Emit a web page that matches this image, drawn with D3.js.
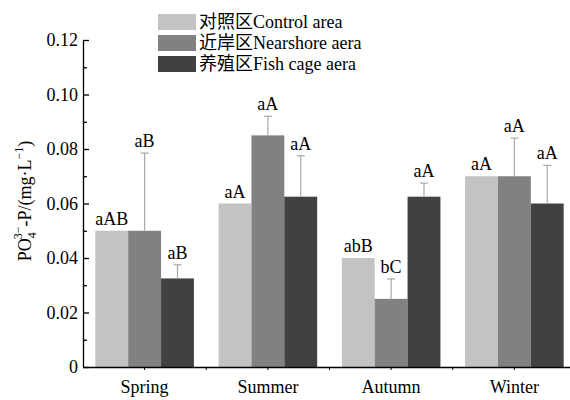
<!DOCTYPE html>
<html>
<head>
<meta charset="utf-8">
<script src="https://cdn.jsdelivr.net/npm/d3@7"></script>
<style>
  html, body { margin: 0; padding: 0; background: #fff; }
  svg { display: block; }
</style>
</head>
<body>
<svg id="chart" width="570" height="400"></svg>
<script>
// Seasons and sampling areas
const seasons = ["Spring", "Summer", "Autumn", "Winter"];
const areas = ["对照区Control area", "近岸区Nearshore aera", "养殖区Fish cage aera"];
const areaColors = ["#c3c3c3", "#818181", "#414141"];

// Phosphate concentration (mg/L), one row per season, one column per area
const means = [
  [0.050, 0.050, 0.0325],
  [0.060, 0.085, 0.0625],
  [0.040, 0.025, 0.0625],
  [0.070, 0.070, 0.060]
];
// Upper error (standard deviation)
const errors = [
  [0, 0.0285, 0.005],
  [0, 0.007, 0.015],
  [0, 0.0073, 0.005],
  [0, 0.014, 0.014]
];
// Significance letters
const letters = [
  ["aAB", "aB", "aB"],
  ["aA", "aA", "aA"],
  ["abB", "bC", "aA"],
  ["aA", "aA", "aA"]
];
const yTicks = [0, 0.02, 0.04, 0.06, 0.08, 0.10, 0.12];

const FONT = '"Liberation Serif", "Noto Sans CJK SC", serif';
const svg = d3.select("#chart");
const plotLeft = 83, plotRight = 576, plotTop = 40, plotBottom = 367;

const x = d3.scaleBand().domain(seasons).range([plotLeft, plotRight])
  .paddingInner(0.2).paddingOuter(0.1);
const xi = d3.scaleBand().domain(d3.range(areas.length)).range([0, x.bandwidth()]);
const y = d3.scaleLinear().domain([0, 0.12]).range([plotBottom, plotTop]);

// Bars
const groups = svg.append("g").selectAll("g").data(seasons).join("g")
  .attr("transform", d => `translate(${x(d)},0)`);

const cells = groups.selectAll("g").data((s, si) => means[si].map((v, ai) => ({
  v, e: errors[si][ai], lab: letters[si][ai], ai
}))).join("g");

cells.append("rect")
  .attr("x", d => xi(d.ai))
  .attr("width", xi.bandwidth())
  .attr("y", d => y(d.v))
  .attr("height", d => y(0) - y(d.v))
  .attr("fill", d => areaColors[d.ai]);

// Error bars (upper only)
const eb = cells.filter(d => d.e > 0);
eb.append("line")
  .attr("x1", d => xi(d.ai) + xi.bandwidth() / 2)
  .attr("x2", d => xi(d.ai) + xi.bandwidth() / 2)
  .attr("y1", d => y(d.v))
  .attr("y2", d => y(d.v + d.e))
  .attr("stroke", "#a8a8a8").attr("stroke-width", 1.2);
eb.append("line")
  .attr("x1", d => xi(d.ai) + xi.bandwidth() / 2 - 4)
  .attr("x2", d => xi(d.ai) + xi.bandwidth() / 2 + 4)
  .attr("y1", d => y(d.v + d.e))
  .attr("y2", d => y(d.v + d.e))
  .attr("stroke", "#a8a8a8").attr("stroke-width", 1.2);

// Letters above bars
cells.append("text")
  .attr("x", d => xi(d.ai) + xi.bandwidth() / 2)
  .attr("y", d => y(d.v + d.e) - 6)
  .attr("text-anchor", "middle")
  .attr("font-size", 18)
  .text(d => d.lab);

// Y axis
const yAxis = d3.axisRight(y).tickValues(d3.range(0, 0.1201, 0.01))
  .tickSize(4).tickFormat("");
const yg = svg.append("g").attr("transform", `translate(${plotLeft},0)`).call(yAxis);
yg.selectAll(".tick line").attr("x2", (d) => (Math.round(d * 100) % 2 === 0 ? 6 : 4));
yg.select(".domain").attr("d", `M0.5,${plotTop}V${plotBottom}`);
yg.selectAll("path, line").attr("stroke", "#000").attr("stroke-width", 1.3);

svg.append("g").selectAll("text").data(yTicks).join("text")
  .attr("x", plotLeft - 5)
  .attr("y", d => y(d) + 6)
  .attr("text-anchor", "end")
  .attr("font-size", 18)
  .text(d => d === 0 ? "0" : d3.format(".2f")(d));

// X axis
const xg = svg.append("g").attr("transform", `translate(0,${plotBottom})`);
xg.append("line").attr("x1", plotLeft).attr("x2", 570).attr("y1", 0.5).attr("y2", 0.5)
  .attr("stroke", "#000").attr("stroke-width", 1.3);
const tickXs = seasons.map(s => x(s) + x.bandwidth() / 2)
  .concat(seasons.slice(0, -1).map(s => x(s) + x.step() - (x.step() - x.bandwidth()) / 2));
xg.selectAll("line.t").data(tickXs).join("line").attr("class", "t")
  .attr("x1", d => d).attr("x2", d => d).attr("y1", 0).attr("y2", 3)
  .attr("stroke", "#000").attr("stroke-width", 1);
xg.selectAll("text").data(seasons).join("text")
  .attr("x", d => x(d) + x.bandwidth() / 2)
  .attr("y", 26)
  .attr("text-anchor", "middle")
  .attr("font-size", 18)
  .text(d => d);

// Y axis title
const yt = svg.append("text")
  .attr("transform", "translate(31,201) rotate(-90)")
  .attr("text-anchor", "middle")
  .attr("font-size", 18);
yt.append("tspan").text("PO");
yt.append("tspan").attr("font-size", 12).attr("dy", 5).text("4");
yt.append("tspan").attr("font-size", 12).attr("dx", -7).attr("dy", -14).text("3−");
yt.append("tspan").attr("dy", 9).text("-P/(mg·L");
yt.append("tspan").attr("font-size", 12).attr("dy", -8).text("−1");
yt.append("tspan").attr("dy", 8).text(")");

// Legend
const lg = svg.append("g").selectAll("g").data(areas).join("g")
  .attr("transform", (d, i) => `translate(158,${14 + i * 21})`);
lg.append("rect").attr("width", 38).attr("height", 16)
  .attr("fill", (d, i) => areaColors[i]);
lg.append("text").attr("x", 41).attr("y", 14).attr("font-size", 18).text(d => d);

svg.selectAll("text").style("font-family", FONT).style("fill", "#000");
</script>
</body>
</html>
